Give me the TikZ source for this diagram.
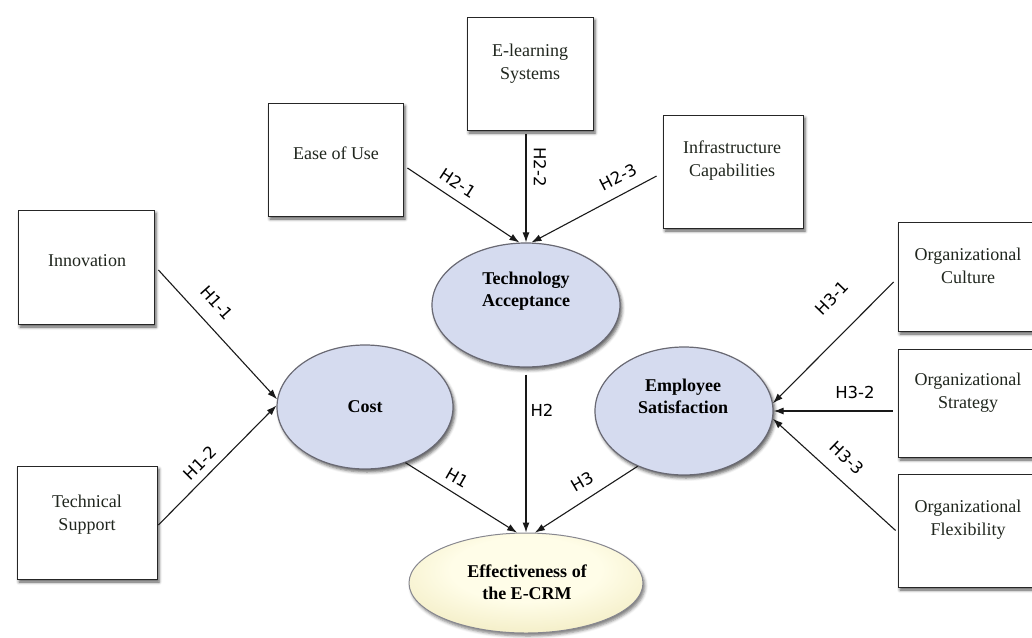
\documentclass[tikz,border=0pt]{standalone}
\usepackage{fontspec}
\setmainfont{Liberation Serif}
\newfontfamily\hypfont{DejaVu Sans}
\usetikzlibrary{arrows.meta,shadows.blur,calc,shapes.geometric}

\definecolor{latentfill}{RGB}{213,219,239}
\definecolor{latentline}{RGB}{105,105,115}
\definecolor{boxtext}{RGB}{32,38,30}
\definecolor{creamA}{RGB}{255,253,232}
\definecolor{creamB}{RGB}{230,220,160}
\pgfdeclareradialshading{creamglow}{\pgfpoint{0bp}{8bp}}{color(0bp)=(creamA); color(16bp)=(creamA); color(50bp)=(creamB); color(100bp)=(creamB)}

\begin{document}
\begin{tikzpicture}[x=1pt,y=-1pt,
  factor/.style={rectangle, draw=black!85, line width=0.8pt, fill=white, inner sep=0pt,
    blur shadow={shadow xshift=2pt, shadow yshift=-3pt, shadow blur radius=3pt, shadow opacity=65}},
  factortext/.style={align=center, text=boxtext, font=\fontsize{18}{23}\selectfont, inner sep=0pt},
  latent/.style={ellipse, draw=latentline, line width=1.2pt, fill=latentfill, inner sep=0pt,
    blur shadow={shadow xshift=2pt, shadow yshift=-3pt, shadow blur radius=3pt, shadow opacity=60}},
  latenttext/.style={align=center, font=\bfseries\fontsize{18}{22}\selectfont, inner sep=0pt},
  hyp/.style={font=\hypfont\fontsize{16.5}{18}\selectfont, inner sep=0pt},
  link/.style={line width=1.1pt, draw=black!90, -{Latex[length=10pt,width=7pt]}},
]
\useasboundingbox (0,0) rectangle (1032,637);
\clip (0,0) rectangle (1032,637);

% indicator boxes
\node[factor, minimum width=136pt, minimum height=114pt] (inn) at (86,267) {};
\node[factor, minimum width=140pt, minimum height=113pt] (tec) at (87,522.5) {};
\node[factor, minimum width=135pt, minimum height=113pt] (eou) at (335.5,159.5) {};
\node[factor, minimum width=126pt, minimum height=113pt] (els) at (530,73.5) {};
\node[factor, minimum width=140pt, minimum height=113pt] (inf) at (733,171.5) {};
\node[factor, minimum width=140pt, minimum height=109pt] (orc) at (968,276.5) {};
\node[factor, minimum width=140pt, minimum height=108pt] (ors) at (968,403) {};
\node[factor, minimum width=140pt, minimum height=113pt] (orf) at (968,530.5) {};

\node[factortext] (inn-t) at (87,261) {Innovation};
\node[factortext] (tec-t) at (87,515) {Technical\\Support};
\node[factortext] (eou-t) at (336,153) {Ease of Use};
\node[factortext] (els-t) at (530,64) {E-learning\\Systems};
\node[factortext] (inf-t) at (732,161) {Infrastructure\\Capabilities};
\node[factortext] (orc-t) at (968,266) {Organizational\\Culture};
\node[factortext] (ors-t) at (968,393) {Organizational\\Strategy};
\node[factortext] (orf-t) at (968,520) {Organizational\\Flexibility};

% constructs
\node[latent, minimum width=188pt, minimum height=124pt] (ta) at (526,305) {};
\node[latent, minimum width=176pt, minimum height=124pt] (cost) at (365,407) {};
\node[latent, minimum width=178pt, minimum height=128pt] (es) at (684,411) {};
\node[ellipse, draw=latentline!80, line width=1pt, shading=creamglow, inner sep=0pt,
  minimum width=234pt, minimum height=100pt,
  blur shadow={shadow xshift=2pt, shadow yshift=-3pt, shadow blur radius=3pt, shadow opacity=50}]
  (eff) at (526,583) {};

\node[latenttext] (ta-t) at (526,291) {Technology\\Acceptance};
\node[latenttext] (cost-t) at (365,407) {Cost};
\node[latenttext] (es-t) at (683,396) {Employee\\Satisfaction};
\node[latenttext] (eff-t) at (527,582) {Effectiveness of\\the E-CRM};

% hypothesised paths
\draw[link] ($(inn.east)+(4,3)$) -- (cost.175);
\draw[link] ($(tec.east)+(1,2.5)$) -- (cost.179);
\draw[link] ($(eou.east)+(4,8.5)$) -- (ta.96);
\draw[link] ($(els.south)+(-4,4)$) -- (ta.north);
\draw[link] ($(inf.west)+(-6,4.5)$) -- (ta.85);
\draw[link] ($(orc.west)+(-4,5.5)$) -- (es.5);
\draw[link] ($(ors.west)+(-5,8)$) -- (es.east);
\draw[link] ($(orf.west)+(-2,0)$) -- (es.-5);
\draw[link] (cost.-54) -- (eff.100);
\draw[link] ($(ta.south)+(0,7)$) -- (eff.north);
\draw[link] (es.230) -- (eff.80);

% path labels
\node[hyp, rotate=-48] (l11) at (217,303) {H1-1};
\node[hyp, rotate=45] (l12) at (200,463) {H1-2};
\node[hyp, rotate=-33] (l21) at (458,183) {H2-1};
\node[hyp, rotate=-90] (l22) at (540,167) {H2-2};
\node[hyp, rotate=27] (l23) at (618,177) {H2-3};
\node[hyp, rotate=-30] (l1) at (457,478) {H1};
\node[hyp] (l2) at (542,410) {H2};
\node[hyp, rotate=30] (l3) at (582,482) {H3};
\node[hyp, rotate=46] (l31) at (832,298) {H3-1};
\node[hyp] (l32) at (855,392) {H3-2};
\node[hyp, rotate=-44] (l33) at (847,458) {H3-3};
\end{tikzpicture}
\end{document}
